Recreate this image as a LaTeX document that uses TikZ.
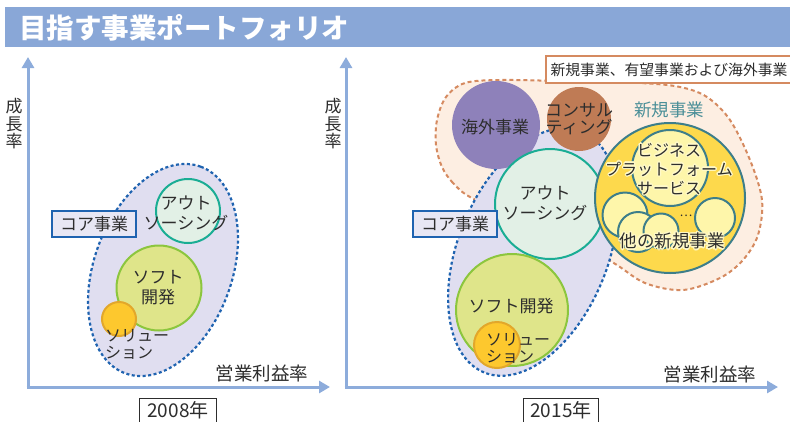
\documentclass[tikz,border=0pt]{standalone}
\usepackage{fontspec}
\setmainfont{Noto Sans CJK JP}
\usetikzlibrary{arrows.meta}
\definecolor{titlebar}{RGB}{137,167,215}
\definecolor{axisc}{RGB}{141,172,219}
\definecolor{lav}{RGB}{224,222,240}
\definecolor{lavbox}{RGB}{232,231,244}
\definecolor{dblue}{RGB}{31,99,176}
\definecolor{outfill}{RGB}{226,240,230}
\definecolor{outline}{RGB}{26,173,148}
\definecolor{softfill}{RGB}{223,229,138}
\definecolor{softline}{RGB}{140,198,62}
\definecolor{solfill}{RGB}{253,200,46}
\definecolor{solline}{RGB}{226,167,43}
\definecolor{purp}{RGB}{142,129,186}
\definecolor{cons}{RGB}{191,123,85}
\definecolor{ybig}{RGB}{253,217,76}
\definecolor{ylight}{RGB}{254,246,170}
\definecolor{yhalo}{RGB}{255,249,200}
\definecolor{tealc}{RGB}{61,126,138}
\definecolor{tealtxt}{RGB}{75,143,152}
\definecolor{blobfill}{RGB}{253,238,226}
\definecolor{blobline}{RGB}{213,138,96}
\definecolor{txt}{RGB}{45,45,45}
\tikzset{
  circ/.style={circle, inner sep=0pt, line width=2pt},
  lbl/.style={text=txt, font=\fontsize{17pt}{20pt}\selectfont, align=center, inner sep=0pt},
  lbll/.style={text=txt, font=\fontsize{16pt}{17pt}\selectfont, align=left, inner sep=0pt},
  coabox/.style={draw=dblue, line width=1.5pt, fill=lavbox, text=txt, font=\fontsize{17pt}{20pt}\selectfont, minimum width=84pt, minimum height=26pt, inner sep=0pt},
  yearbox/.style={draw=txt, line width=1pt, fill=white, text=txt, font=\fontsize{19pt}{20pt}\selectfont, inner sep=0pt},
  axisarrow/.style={draw=axisc, line width=3pt, -{Triangle[width=12pt,length=11pt]}},
  lavell/.style={fill=lav, draw=dblue, line width=2.2pt, dash pattern=on 3pt off 2.5pt},
  blob/.style={fill=blobfill, draw=blobline, line width=2pt, dash pattern=on 4pt off 3pt},
}
% #1 name, #2 x, #3 y, #4 font, #5 text
\newcommand\halotext[5]{%
  \foreach \a in {0,30,...,330} {\node[lbl, font=#4, text=yhalo, shift={(\a:1.4pt)}] (#1h\a) at (#2,#3) {#5};}
  \node[lbl, font=#4] (#1) at (#2,#3) {#5};}
\begin{document}
\begin{tikzpicture}[x=1pt,y=-1pt]
\useasboundingbox (0,0) rectangle (790,421);
% title
\fill[titlebar] (5,7) rectangle (790,47);
\node[anchor=west, text=white, font=\fontsize{27.5pt}{30pt}\selectfont\bfseries, inner sep=0pt] (title) at (19,28) {目指す事業ポートフォリオ};

% ===== left chart =====
\coordinate (lo) at (28,387);
\coordinate (ltop) at (28,57);
\coordinate (lright) at (330,387);
\draw[axisarrow] (lo) -- (ltop);
\draw[axisarrow] ([xshift=-1.5pt]lo) -- (lright);
\node[lbl, font=\fontsize{17pt}{17.5pt}\selectfont] (lgrow) at (14,124) {成\\長\\率};
\node[lbl, font=\fontsize{18.5pt}{20pt}\selectfont] (lprof) at (262,373) {営業利益率};
\node[yearbox, minimum width=77pt, minimum height=30pt] (y2008) at (178,413) {};
\node[text=txt, font=\fontsize{19pt}{20pt}\selectfont, inner sep=0pt] (y2008t) at (178,410) {2008年};

\path[lavell] [shift={(163,270)}, rotate=70] (0,0) ellipse [x radius=110pt, y radius=69pt];
\node[circ, draw=outline, fill=outfill, minimum size=64pt] (lout) at (188,211) {};
\node[circ, draw=softline, fill=softfill, minimum size=85pt] (lsoft) at (159,288) {};
\node[circ, draw=solline, fill=solfill, minimum size=34pt] (lsol) at (119,319) {};
\node[lbl] (loutt) at (186,213) {アウト\\ソーシング};
\node[lbl] (lsoftt) at (158,288) {ソフト\\開発};
\node[lbll, anchor=west] (lsolt) at (105,344) {ソリュー\\ション};
\node[coabox] (lcoa) at (94,224) {コア事業};

% ===== right chart =====
\coordinate (ro) at (346,387);
\coordinate (rtop) at (346,57);
\coordinate (rright) at (778,387);
\draw[axisarrow] (ro) -- (rtop);
\draw[axisarrow] ([xshift=-1.5pt]ro) -- (rright);
\node[lbl, font=\fontsize{17pt}{17.5pt}\selectfont] (rgrow) at (333,124) {成\\長\\率};
\node[lbl, font=\fontsize{18.5pt}{20pt}\selectfont] (rprof) at (710,374) {営業利益率};
\node[yearbox, minimum width=75pt, minimum height=30pt] (y2015) at (561,413) {};
\node[text=txt, font=\fontsize{19pt}{20pt}\selectfont, inner sep=0pt] (y2015t) at (561,410) {2015年};

% orange blob
\draw[blob] plot[smooth cycle, tension=0.55] coordinates {(470,197) (453,183) (442,167) (436,145) (437,120) (446,97) (465,83) (500,80) (560,81) (640,83) (680,87) (707,97) (730,120) (750,160) (762,200) (758,235) (743,260) (720,278) (683,290) (645,283) (612,262) (560,235) (510,215)};

\path[lavell] [shift={(533,252)}, rotate=68] (0,0) ellipse [x radius=130pt, y radius=75pt];

\node[circ, draw=none, fill=purp, minimum size=88pt] (rover) at (496,125) {};
\node[circ, draw=none, fill=cons, minimum size=64pt] (rcons) at (579,119) {};
\node[circ, draw=outline, fill=outfill, minimum size=110pt] (rout) at (550,204) {};
\node[circ, draw=softline, fill=softfill, minimum size=112pt] (rsoft) at (512,310) {};
\node[circ, draw=solline, fill=solfill, minimum size=46pt] (rsol) at (497,345) {};

\node[lbl] (rovert) at (495,127) {海外事業};
\node[lbl, font=\fontsize{17pt}{17.5pt}\selectfont] (rconst) at (579,119) {コンサル\\ティング};
\node[lbl] (routt) at (545,203) {アウト\\ソーシング};
\node[lbl] (rsoftt) at (511,306) {ソフト開発};
\node[lbll, anchor=west] (rsolt) at (486,348) {ソリュー\\ション};
\node[coabox] (rcoa) at (455,224) {コア事業};

% new business
\node[circ, draw=tealc, fill=ybig, minimum size=150pt] (ybig) at (670,198) {};
\node[circ, draw=tealc, fill=ylight, minimum size=45pt] (s1) at (625,215) {};
\node[circ, draw=tealc, fill=ylight, minimum size=40pt] (s4) at (715,218) {};
\node[circ, draw=tealc, fill=ylight, minimum size=40pt] (s2) at (638,232) {};
\node[circ, draw=tealc, fill=ylight, minimum size=35pt] (s3) at (661,231) {};
\node[circ, draw=tealc, fill=ylight, minimum size=76pt] (plat) at (670,168) {};
\halotext{platt}{669}{169}{\fontsize{16pt}{19pt}\selectfont}{ビジネス\\プラットフォーム\\サービス}
\node[lbl, font=\fontsize{12pt}{14pt}\selectfont] (dots) at (686,216) {…};
\halotext{othert}{672}{241}{\fontsize{17.5pt}{20pt}\selectfont}{他の新規事業}
\node[lbl, text=tealtxt, font=\fontsize{17.5pt}{20pt}\selectfont] (newt) at (669,110) {新規事業};

\node[draw=blobline, line width=1.5pt, fill=white, minimum height=27pt, minimum width=250pt, anchor=west, inner sep=0pt] (topbox) at (545,69.5) {};
\node[text=txt, font=\fontsize{14.8pt}{17pt}\selectfont, inner sep=0pt] (topboxt) at (669,70) {新規事業、有望事業および海外事業};
\end{tikzpicture}
\end{document}
